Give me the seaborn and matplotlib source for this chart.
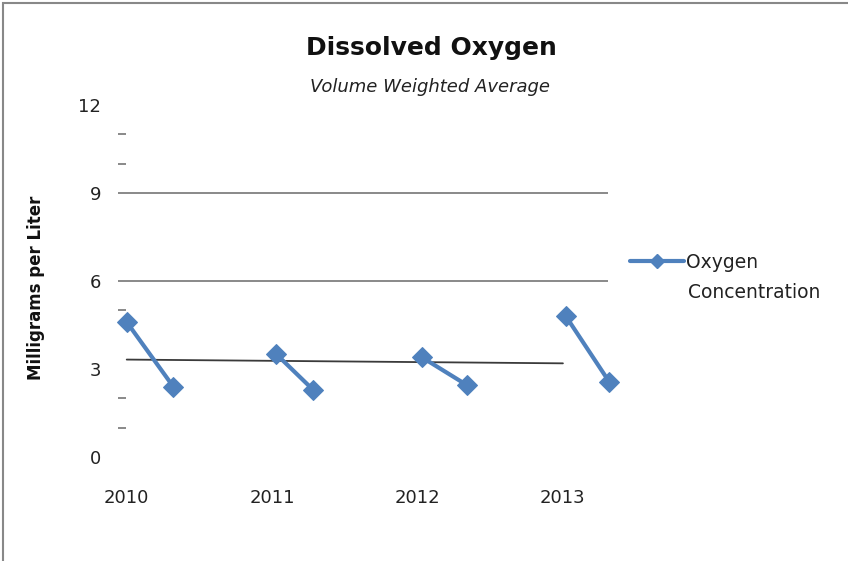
import seaborn as sns
import matplotlib.pyplot as plt
import numpy as np
import pandas as pd
from matplotlib.lines import Line2D
from matplotlib.patches import Rectangle

# two samples per year, plotted on a date axis (decimal years)
years = [2010, 2010, 2011, 2011, 2012, 2012, 2013, 2013]
sample_dates = [2010.0, 2010.32, 2011.03, 2011.28, 2012.03, 2012.34, 2013.02, 2013.32]
oxygen = [4.6, 2.4, 3.5, 2.3, 3.4, 2.45, 4.8, 2.55]
year_ticks = [2010, 2011, 2012, 2013]
y_major = [0, 3, 6, 9, 12]
y_minor = [1, 2, 5, 10, 11]

df = pd.DataFrame({'year': years, 'date': sample_dates, 'oxygen': oxygen})

blue = '#4F81BD'
sns.set_theme(style="white")
plt.rcParams['font.family'] = ['DejaVu Sans']

fig = plt.figure(figsize=(8.48, 5.61), dpi=100)
ax = fig.add_axes([118 / 848, 1 - 457 / 561, 490 / 848, 352 / 561])

# gridlines
ax.axhline(6, color='#808080', lw=1.3, zorder=1)
ax.axhline(9, color='#808080', lw=1.3, zorder=1)

# linear trend line over the years
slope, intercept = np.polyfit(df['date'], df['oxygen'], 1)
trend_x = np.array([year_ticks[0], year_ticks[-1]])
ax.plot(trend_x, slope * trend_x + intercept, color='#3a3a3a', lw=1.3, zorder=1)

sns.lineplot(data=df, x='date', y='oxygen', units='year', estimator=None,
             color=blue, lw=3, marker='D', markersize=10, markeredgecolor=blue,
             ax=ax, legend=False, clip_on=False, zorder=3)

ax.set_xlim(2009.94, 2013.31)
ax.set_ylim(0, 12)
ax.set_xticks(year_ticks)
ax.set_xticklabels([str(y) for y in year_ticks])
ax.set_yticks(y_major)
ax.set_yticks(y_minor, minor=True)
ax.tick_params(axis='both', which='major', length=0, labelsize=13, labelcolor='#222222')
ax.tick_params(axis='y', which='major', pad=12)
ax.tick_params(axis='x', which='major', pad=23)
ax.tick_params(axis='y', which='minor', direction='in', length=6, width=1.3,
               color='#808080', left=True)
for s in ax.spines.values():
    s.set_visible(False)

ax.set_xlabel('')
ax.set_ylabel('Milligrams per Liter', fontsize=12, fontweight='bold', color='#111111')
ax.yaxis.set_label_coords(-0.149, 0.48)

fig.text(431 / 848, 1 - 48 / 561, 'Dissolved Oxygen', ha='center', va='center',
         fontsize=18, fontweight='bold', color='#111111')
fig.text(430 / 848, 1 - 87 / 561, 'Volume Weighted Average', ha='center', va='center',
         fontsize=13, fontstyle='italic', color='#222222')

handle = Line2D([], [], color=blue, lw=3, marker='D', markersize=7)
ax.legend([handle], ['Oxygen'], loc='center left',
          bbox_to_anchor=(630 / 848, 1 - 262 / 561), bbox_transform=fig.transFigure,
          frameon=False, handlelength=2.9, borderpad=0, borderaxespad=0,
          handletextpad=0.1, fontsize=13.5, labelcolor='#222222')
fig.text(688 / 848, 1 - 292 / 561, 'Concentration', ha='left', va='center',
         fontsize=13.5, color='#222222')

fig.add_artist(Rectangle((2.5 / 848, -0.5), 2, 0.5 + 1 - 2.5 / 561, fill=False,
                         edgecolor='#888888', lw=1.5, transform=fig.transFigure))

fig.savefig('out.png', dpi=100)
